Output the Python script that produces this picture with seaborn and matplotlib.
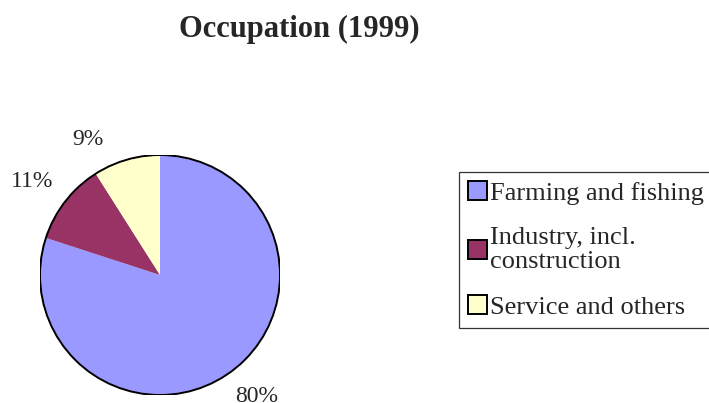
import numpy as np
import pandas as pd
import matplotlib
matplotlib.use("Agg")
import matplotlib.pyplot as plt
import seaborn as sns

# data
categories = ["Farming and fishing", "Industry, incl.\nconstruction", "Service and others"]
shares = [80, 11, 9]
colors = ["#9999FF", "#993366", "#FFFFCC"]

sns.set_style("white")
plt.rcParams["font.family"] = ["Liberation Serif", "DejaVu Serif"]

df = pd.DataFrame({"category": categories, "share": shares})

fig = plt.figure(figsize=(7.09, 4.03), dpi=100)
fig.patch.set_facecolor("white")

# pie axes: centre ~(160, 275) px, radius ~120 px
ax = fig.add_axes([40 / 709, 8 / 403, 240 / 709, 240 / 403])
wedges, _ = ax.pie(
    df["share"], colors=colors, startangle=90, counterclock=False,
    wedgeprops=dict(edgecolor="black", linewidth=0),
)
ax.add_patch(plt.Circle((0, 0), 1, fill=False, edgecolor="black", linewidth=1.4))

# percentage labels placed outside, nudged the way Excel does it
label_dist = [1.29, 1.32, 1.28]
label_nudge = [2.4, 1.5, 11.7]
for w, val, d, nudge in zip(wedges, df["share"], label_dist, label_nudge):
    ang = np.deg2rad((w.theta1 + w.theta2) / 2 + nudge)
    ax.text(d * np.cos(ang), d * np.sin(ang), f"{val}%", ha="center", va="center",
            fontsize=17, clip_on=False)

ax.set_xlim(-1, 1)
ax.set_ylim(-1, 1)
ax.set_aspect("equal")
ax.axis("off")

fig.text(299 / 709, 1 - 37 / 403, "Occupation (1999)", ha="center", va="baseline",
         fontsize=22, fontweight="bold")

leg = fig.legend(wedges, df["category"], loc="upper left",
                 bbox_to_anchor=(459 / 709, 1 - 172 / 403),
                 frameon=True, fancybox=False, fontsize=19,
                 handlelength=0.72, handleheight=0.72, handletextpad=0.12,
                 labelspacing=0.85, borderpad=0.35, borderaxespad=0)
leg.get_frame().set_edgecolor("black")
leg.get_frame().set_linewidth(0.9)
for h in leg.legend_handles:
    h.set_edgecolor("black")
    h.set_linewidth(1.4)
for t in leg.get_texts():
    t.set_linespacing(1.1)

plt.savefig("out.png", dpi=100)
plt.close()
